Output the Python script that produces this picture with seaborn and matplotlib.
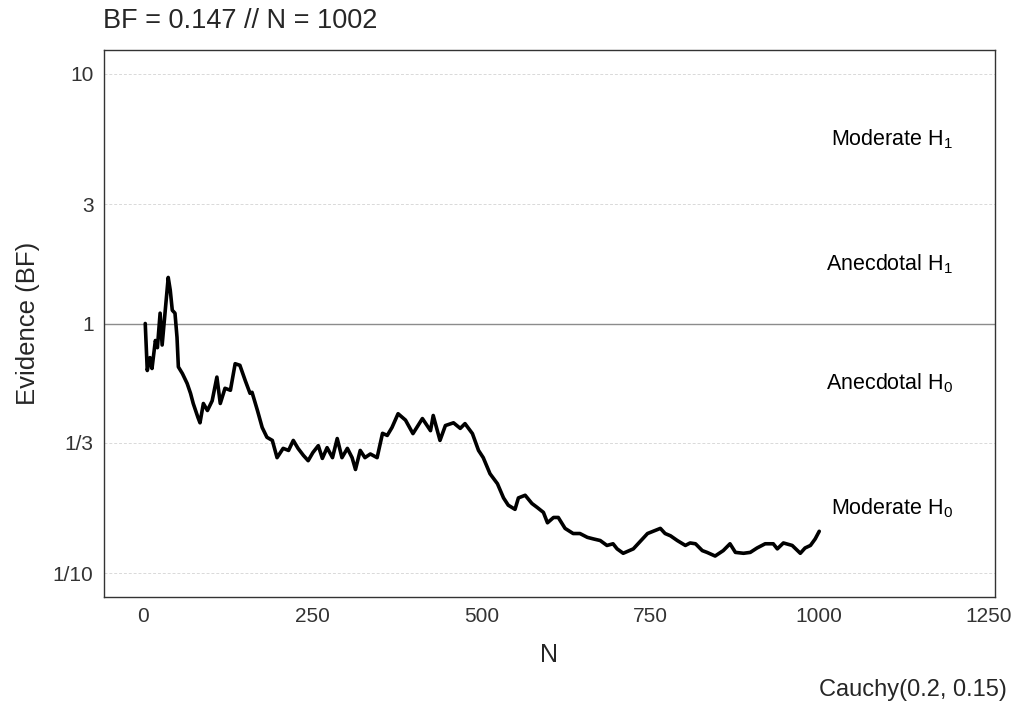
import numpy as np
import pandas as pd
import matplotlib
matplotlib.use("Agg")
import matplotlib.pyplot as plt
import seaborn as sns

# ---- data ----
n_values = [3, 6, 10, 13, 18, 21, 25, 28, 33, 37, 40, 43, 47, 50, 52, 58, 65, 70, 74, 81,
            84, 89, 95, 102, 109, 114, 121, 129, 136, 143, 151, 158, 161, 169, 176, 183, 191, 198,
            207, 215, 222, 229, 237, 244, 251, 259, 265, 272, 280, 287, 294, 302, 309, 314,
            321, 328, 336, 346, 354, 361, 368, 377, 388, 399, 413, 425, 429, 439, 447, 459,
            469, 476, 487, 496, 503, 513, 524, 533, 540, 550, 555, 565, 575, 583, 592, 598,
            607, 614, 624, 636, 646, 657, 666, 676, 686, 695, 701, 710, 725, 746, 765, 772,
            780, 790, 802, 809, 817, 827, 834, 846, 858, 868, 876, 888, 898, 908, 920, 932,
            938, 947, 960, 972, 979, 987, 994, 1000]
bf_values = [1.00, 0.648, 0.73, 0.66, 0.855, 0.80, 1.10, 0.82, 1.16, 1.53, 1.36, 1.13, 1.10,
             0.88, 0.67, 0.63, 0.575, 0.525, 0.478, 0.42, 0.40, 0.478, 0.448, 0.49, 0.61,
             0.478, 0.55, 0.54, 0.69, 0.68, 0.59, 0.525, 0.53, 0.448, 0.383, 0.35, 0.34,
             0.29, 0.316, 0.31, 0.34, 0.316, 0.296, 0.282, 0.304, 0.324, 0.288, 0.318, 0.29,
             0.346, 0.29, 0.316, 0.29, 0.26, 0.31, 0.29, 0.30, 0.29, 0.363, 0.356, 0.383,
             0.435, 0.41, 0.362, 0.416, 0.372, 0.428, 0.34, 0.39, 0.40, 0.38, 0.397, 0.362,
             0.31, 0.29, 0.25, 0.228, 0.20, 0.187, 0.18, 0.20, 0.205, 0.19, 0.183, 0.175,
             0.159, 0.167, 0.167, 0.151, 0.144, 0.144, 0.139, 0.137, 0.135, 0.129, 0.131,
             0.125, 0.12, 0.125, 0.144, 0.151, 0.144, 0.141, 0.135, 0.129, 0.132, 0.131,
             0.123, 0.121, 0.117, 0.123, 0.131, 0.121, 0.12, 0.121, 0.126, 0.131, 0.131,
             0.125, 0.132, 0.129, 0.12, 0.126, 0.129, 0.137, 0.147]

y_ticks = [1/10, 1/3, 1, 3, 10]
y_ticklabels = ["1/10", "1/3", "1", "3", "10"]
x_ticks = [0, 250, 500, 750, 1000, 1250]

evidence_labels = ["Moderate H$_1$", "Anecdotal H$_1$", "Anecdotal H$_0$", "Moderate H$_0$"]
evidence_bounds = [(3, 10), (1, 3), (1/3, 1), (1/10, 1/3)]

title_text = "BF = 0.147 // N = 1002"
caption_text = "Cauchy(0.2, 0.15)"

df = pd.DataFrame({"N": n_values, "BF": bf_values})

# ---- style ----
sns.set_style("white")
plt.rcParams["font.family"] = ["Liberation Sans", "DejaVu Sans"]
plt.rcParams["mathtext.fontset"] = "custom"
plt.rcParams["mathtext.rm"] = "Liberation Sans"
plt.rcParams["mathtext.it"] = "Liberation Sans"

fig = plt.figure(figsize=(10.21, 7.06), dpi=100)
ax = fig.add_axes([104/1021, 1 - 597/706, (995-104)/1021, (597-50)/706])

ax.set_yscale("log")
for v in y_ticks:
    if v == 1:
        ax.axhline(v, color="#8c8c8c", lw=1.0, zorder=1)
    else:
        ax.axhline(v, color="#d9d9d9", lw=0.7, ls=(0, (3, 2)), zorder=1)

sns.lineplot(data=df, x="N", y="BF", ax=ax, color="black", lw=2.6, zorder=3)

ax.set_xlim(-58, 1260)
ax.set_ylim(10**-1.096, 10**1.096)
ax.set_yticks(y_ticks)
ax.set_yticklabels(y_ticklabels)
ax.minorticks_off()
ax.set_xticks(x_ticks)
ax.set_xticklabels([str(t) for t in x_ticks])
ax.tick_params(axis="both", which="major", direction="out", length=4.5, width=0.8,
               color="#333333", labelsize=15, labelcolor="#333333", pad=3)

for s in ax.spines.values():
    s.set_color("#333333")
    s.set_linewidth(1.0)

for lab, (lo, hi) in zip(evidence_labels, evidence_bounds):
    ax.text(1198, np.sqrt(lo * hi), lab, ha="right", va="center", fontsize=15.5, color="black")

ax.set_xlabel("N", fontsize=18, labelpad=12)
ax.set_ylabel("Evidence (BF)", fontsize=18.5, labelpad=9)

fig.text(103/1021, 1 - 21/706, title_text, fontsize=19.5, ha="left", va="center")
fig.text(1007/1021, 1 - 690/706, caption_text, fontsize=17, ha="right", va="center")

fig.savefig("out.png", dpi=100)
